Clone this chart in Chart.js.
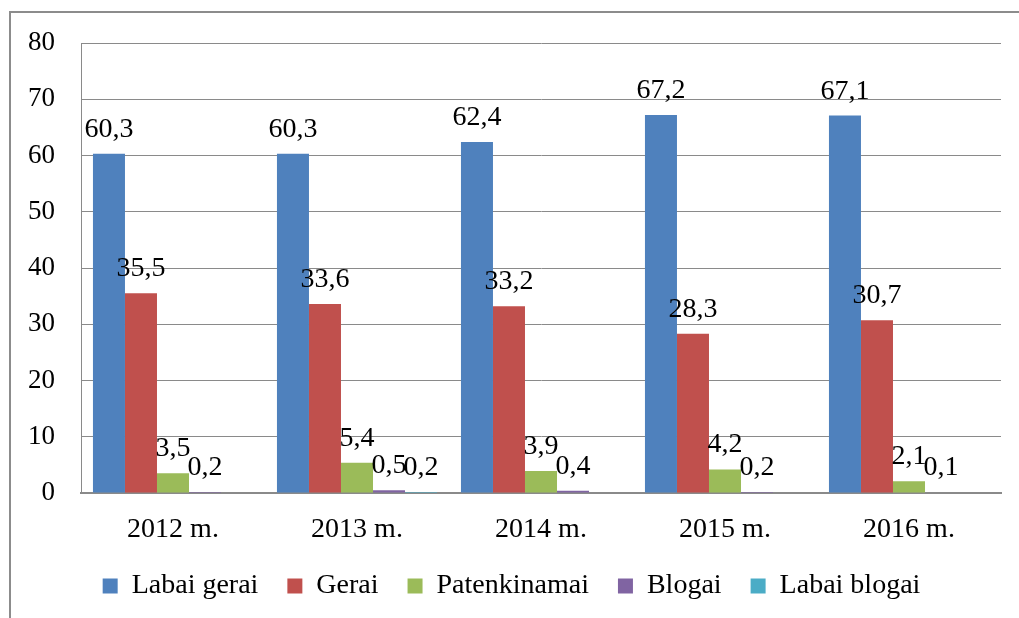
<!DOCTYPE html>
<html>
<head>
<meta charset="utf-8">
<script src="https://cdn.jsdelivr.net/npm/chart.js@4"></script>
<style>
  html, body { margin: 0; padding: 0; background: #fff; }
</style>
</head>
<body>
<canvas id="barChart" width="1019" height="618"></canvas>
<script>
const years = ['2012 m.', '2013 m.', '2014 m.', '2015 m.', '2016 m.'];
const labaiGerai = [60.3, 60.3, 62.4, 67.2, 67.1];
const gerai = [35.5, 33.6, 33.2, 28.3, 30.7];
const patenkinamai = [3.5, 5.4, 3.9, 4.2, 2.1];
const blogai = [0.2, 0.5, 0.4, 0.2, 0.1];
const labaiBlogai = [null, 0.2, null, null, null];
const yTicks = [0, 10, 20, 30, 40, 50, 60, 70, 80];

const serif = '"Liberation Serif", "Times New Roman", serif';
const gridColor = '#8a8a8a';

// outer frame (only left + top edges are visible in the picture)
const frame = {
    id: 'frame',
    beforeDraw(chart) {
        const ctx = chart.ctx;
        ctx.save();
        ctx.fillStyle = '#fff';
        ctx.fillRect(0, 0, chart.width, chart.height);
        ctx.strokeStyle = '#8c8c8c';
        ctx.lineWidth = 2;
        ctx.beginPath();
        ctx.moveTo(10, chart.height);
        ctx.lineTo(10, 12);
        ctx.lineTo(chart.width, 12);
        ctx.stroke();
        ctx.restore();
    }
};

// value labels above bars, decimal comma
const valueLabels = {
    id: 'valueLabels',
    afterDatasetsDraw(chart) {
        const ctx = chart.ctx;
        ctx.save();
        ctx.font = '28px ' + serif;
        ctx.fillStyle = '#000';
        ctx.textAlign = 'center';
        ctx.textBaseline = 'alphabetic';
        chart.data.datasets.forEach((ds, i) => {
            chart.getDatasetMeta(i).data.forEach((bar, j) => {
                const v = ds.data[j];
                if (v == null) return;
                ctx.fillText(String(v).replace('.', ','), bar.x, bar.y - 17);
            });
        });
        ctx.restore();
    }
};

const ctx = document.getElementById('barChart').getContext('2d');
const barChart = new Chart(ctx, {
    type: 'bar',
    data: {
        labels: years,
        datasets: [
            { label: 'Labai gerai', data: labaiGerai, backgroundColor: '#4F81BD' },
            { label: 'Gerai', data: gerai, backgroundColor: '#C0504D' },
            { label: 'Patenkinamai', data: patenkinamai, backgroundColor: '#9BBB59' },
            { label: 'Blogai', data: blogai, backgroundColor: '#8064A2' },
            { label: 'Labai blogai', data: labaiBlogai, backgroundColor: '#4BACC6' }
        ]
    },
    options: {
        responsive: false,
        animation: false,
        devicePixelRatio: 1,
        categoryPercentage: 0.87,
        barPercentage: 1,
        layout: {
            padding: { left: 22, top: 43, right: 18, bottom: 8 }
        },
        plugins: {
            legend: {
                position: 'bottom',
                labels: {
                    font: { family: serif, size: 28 },
                    color: '#000',
                    boxWidth: 15,
                    boxHeight: 15,
                    padding: 29
                }
            },
            tooltip: { enabled: false }
        },
        scales: {
            x: {
                grid: { display: false },
                border: { color: gridColor, width: 2 },
                ticks: {
                    color: '#000',
                    font: { family: serif, size: 28 },
                    padding: 12,
                    maxRotation: 0
                },
                afterFit: s => { s.height = 50; }
            },
            y: {
                min: 0,
                max: 80,
                afterBuildTicks: s => { s.ticks = yTicks.map(v => ({ value: v })); },
                grid: { color: gridColor, lineWidth: 1, drawTicks: false },
                border: { color: gridColor, width: 1 },
                ticks: {
                    color: '#000',
                    font: { family: serif, size: 27 },
                    padding: 26
                },
                afterFit: s => { s.width = 59; }
            }
        }
    },
    plugins: [frame, valueLabels]
});
</script>
</body>
</html>
